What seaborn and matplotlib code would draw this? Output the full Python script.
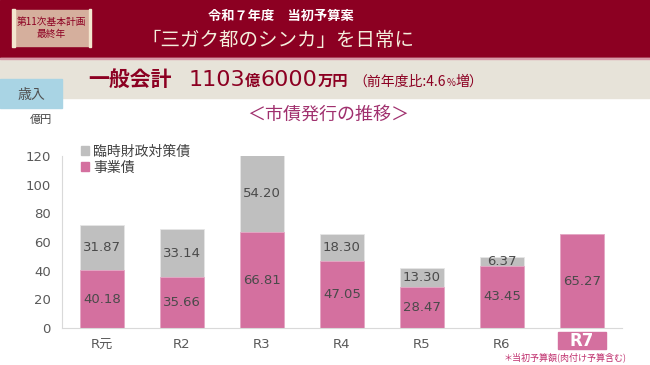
import matplotlib
matplotlib.use("Agg")
import matplotlib.pyplot as plt
from matplotlib.patches import Rectangle, Patch
import seaborn as sns
import pandas as pd

# ---- data ----
categories = ["R元", "R2", "R3", "R4", "R5", "R6", "R7"]
jigyo = [40.18, 35.66, 66.81, 47.05, 28.47, 43.45, 65.27]      # 事業債
rinzai = [31.87, 33.14, 54.20, 18.30, 13.30, 6.37, 0.0]        # 臨時財政対策債
yticks = [0, 20, 40, 60, 80, 100, 120]

PINK = "#D4709F"
GRAY = "#BFBFBF"
DARKRED = "#8C0022"
NUMFONT = ["DejaVu Sans", "Noto Sans CJK JP"]

sns.set_theme(style="white")
plt.rcParams["font.family"] = ["Noto Sans CJK JP", "DejaVu Sans"]

W, H = 650, 365
fig = plt.figure(figsize=(6.5, 3.65), dpi=100)
fig.patch.set_facecolor("white")

def fx(px):
    return px / W

def fy(py):
    return 1 - py / H

def rect(x, y, w, h, color, z=0):
    fig.patches.append(Rectangle((fx(x), fy(y + h)), w / W, h / H,
                                 transform=fig.transFigure, color=color, zorder=z))

# header bands
rect(0, 0, W, 58, DARKRED)
rect(0, 58, W, 40, "#E7E3D9")
rect(0, 58, W, 1.2, "#D89AA8", 1)
rect(0, 79, 62, 29, "#A9D4E4", 2)
fig.text(fx(31), fy(95), "歳入", ha="center", va="center", fontsize=10, color="#505050", zorder=3)

# top-left scroll box
rect(13, 10, 77, 36, "#D5AF9D", 1)
rect(12, 9, 2.5, 38, "#F3E6CF", 2)
rect(88.5, 9, 2.5, 38, "#F3E6CF", 2)
fig.text(fx(51), fy(28), "第11次基本計画\n最終年", ha="center", va="center",
         fontsize=7, color=DARKRED, linespacing=1.15, zorder=3)

# titles
fig.text(fx(281), fy(16), "令和７年度　当初予算案", ha="center", va="center",
         fontsize=9.5, fontweight="bold", color="white")
fig.text(fx(278), fy(41), "「三ガク都のシンカ」を日常に", ha="center", va="center",
         fontsize=14, color="#F4EEDC")

# composite line
renderer = fig.canvas.get_renderer()
def seq(pieces, x0, ybase, color):
    x = x0
    for s, size, weight, fam, gap in pieces:
        t = fig.text(fx(x), fy(ybase), s, fontsize=size, fontweight=weight, family=fam,
                     ha="left", va="baseline", color=color, zorder=3)
        bb = t.get_window_extent(renderer=renderer)
        x = x + bb.width + gap

CJK = ["Noto Sans CJK JP", "DejaVu Sans"]
seq([("一般会計", 15, "bold", CJK, 17),
     ("1103", 16, "normal", NUMFONT, 0), ("億", 11, "bold", CJK, 0),
     ("6000", 16, "normal", NUMFONT, 0), ("万円", 11, "bold", CJK, 6),
     ("（前年度比:4.6", 10, "normal", CJK, 0), ("%", 7, "normal", CJK, 0),
     ("増）", 10, "normal", CJK, 0)],
    88, 86, DARKRED)

# subtitle and unit
fig.text(fx(328), fy(115), "＜市債発行の推移＞", ha="center", va="center",
         fontsize=13, color="#A0306E")
fig.text(fx(41), fy(120), "億円", ha="center", va="center", fontsize=8, color="#404040")

# ---- chart ----
ax = fig.add_axes([fx(62), fy(328), 560 / W, 172 / H])
totals = [a + b for a, b in zip(jigyo, rinzai)]
df = pd.DataFrame({"cat": categories, "total": totals, "jigyo": jigyo})
sns.barplot(data=df, x="cat", y="total", color=GRAY, saturation=1, width=0.55, ax=ax,
            edgecolor="#E6E6E6", linewidth=0.6)
sns.barplot(data=df, x="cat", y="jigyo", color=PINK, saturation=1, width=0.55, ax=ax,
            edgecolor="#E6A9C6", linewidth=0.6)

for i, (a, b) in enumerate(zip(jigyo, rinzai)):
    ax.text(i, a / 2, f"{a:.2f}", ha="center", va="center", fontsize=9.5,
            family=NUMFONT, color="#4A4A4A")
    if b > 0:
        ax.text(i, a + b / 2, f"{b:.2f}", ha="center", va="center", fontsize=9.5,
                family=NUMFONT, color="#4A4A4A")

ax.set_xlim(-0.5, 6.5)
ax.set_ylim(0, 120)
ax.set_yticks(yticks)
ax.set_yticklabels([str(v) for v in yticks], family=NUMFONT)
ax.set_xlabel("")
ax.set_ylabel("")
ax.set_xticks(range(len(categories)))
# last category drawn separately in a highlighted box
ax.set_xticklabels(categories[:-1] + [""], family=NUMFONT)
ax.set_xticks([i - 0.5 for i in range(len(categories) + 1)], minor=True)
ax.tick_params(axis="x", which="major", length=0, pad=7, labelsize=9.5, labelcolor="#595959")
ax.tick_params(axis="x", which="minor", length=4, color="#D9D9D9", direction="out")
ax.tick_params(axis="y", length=3, color="#D9D9D9", labelsize=9.5, labelcolor="#595959", pad=5)
for s in ["top", "right"]:
    ax.spines[s].set_visible(False)
for s in ["left", "bottom"]:
    ax.spines[s].set_color("#D9D9D9")
    ax.spines[s].set_linewidth(0.8)
ax.set_facecolor("none")

# R7 highlighted label box
xt = ax.get_xaxis_transform()
last = len(categories) - 1
ax.add_patch(Rectangle((last - 0.295, -0.122), 0.59, 0.099, transform=xt,
                       color=PINK, clip_on=False, zorder=4))
ax.text(last, -0.073, categories[last], transform=xt, ha="center", va="center",
        fontsize=12, fontweight="bold", family=NUMFONT, color="white", zorder=5, clip_on=False)

handles = [Patch(color=GRAY), Patch(color=PINK)]
fig.legend(handles, ["臨時財政対策債", "事業債"], loc="upper left",
           bbox_to_anchor=(fx(68), fy(132)), frameon=False, fontsize=10,
           handlelength=0.6, handleheight=0.6, handletextpad=0.3, labelspacing=0.15,
           labelcolor="#404040")

fig.text(fx(565), fy(357.5), "＊当初予算額(肉付け予算含む)", ha="center", va="center",
         fontsize=6.5, color="#C0306E")

fig.savefig("out.png", dpi=100)
